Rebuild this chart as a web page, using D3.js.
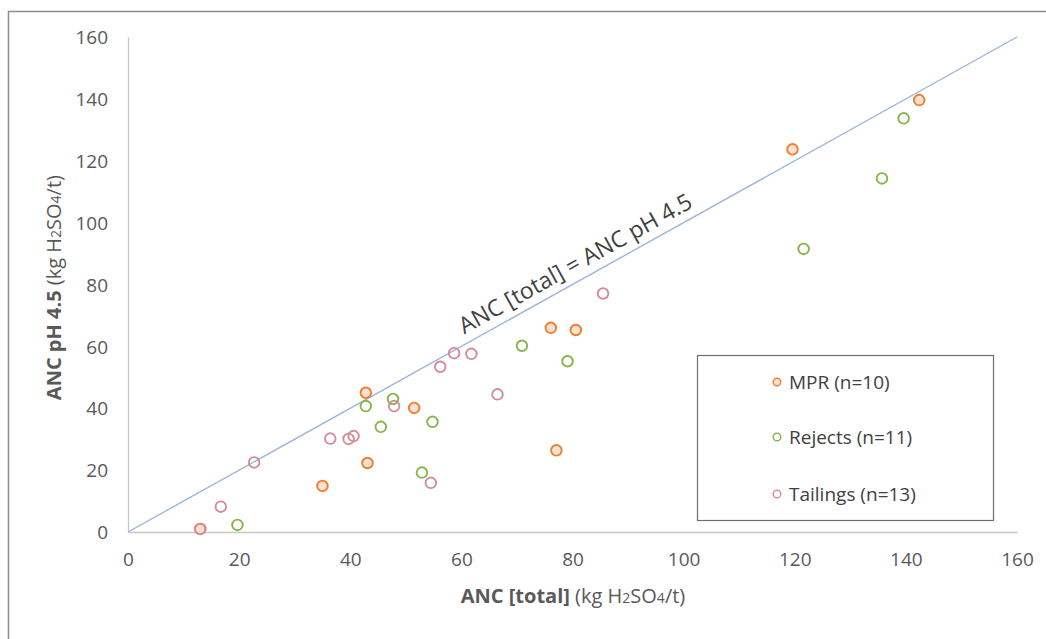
<!DOCTYPE html>
<html>
<head>
<meta charset="utf-8">
<script src="https://cdn.jsdelivr.net/npm/d3@7"></script>
<style>
  html, body { margin: 0; padding: 0; background: #fff; }
  svg { display: block; }
  text { font-family: "Open Sans", "Liberation Sans", sans-serif; }
</style>
</head>
<body>
<svg id="chart" width="1046" height="639"></svg>
<script>
// ---- data ----
const seriesNames = ["MPR (n=10)", "Rejects (n=11)", "Tailings (n=13)"];
const mprX = [13, 35, 42.8, 43.1, 51.5, 76.1, 77.1, 80.6, 119.6, 142.4];
const mprY = [1, 14.9, 45, 22.3, 40.1, 66, 26.4, 65.3, 123.7, 139.6];
const rejectsX = [19.7, 42.8, 45.5, 47.7, 52.9, 54.8, 70.9, 79.1, 121.6, 135.7, 139.6];
const rejectsY = [2.3, 40.7, 34, 43, 19.2, 35.6, 60.2, 55.2, 91.5, 114.3, 133.7];
const tailingsX = [13, 16.7, 22.7, 36.4, 39.7, 40.6, 47.9, 54.5, 56.2, 58.7, 61.8, 66.5, 85.5];
const tailingsY = [1, 8.2, 22.5, 30.2, 30.1, 31, 40.7, 15.9, 53.4, 57.8, 57.6, 44.5, 77.1];
const xTicks = [0, 20, 40, 60, 80, 100, 120, 140, 160];
const yTicks = [0, 20, 40, 60, 80, 100, 120, 140, 160];
const refLine = [[0, 0], [160, 160]];
const refLabel = "ANC [total] = ANC pH 4.5";

const colors = {
  stroke: ["#ED7D31", "#86B54A", "#D48C9B"],
  fill: ["#FCE1CF", "#FFFFFF", "#FFFFFF"]
};

const svg = d3.select("#chart");
const W = 1046, H = 639;
const m = { left: 128, right: W - 1017, top: 37, bottom: H - 532 };

// outer frame
svg.append("path")
  .attr("d", `M8.5,${H} L8.5,11.5 L${W},11.5`)
  .attr("fill", "none").attr("stroke", "#8c8c8c").attr("stroke-width", 1.5);

const x = d3.scaleLinear().domain([0, 160]).range([m.left, W - m.right]);
const y = d3.scaleLinear().domain([0, 160]).range([H - m.bottom, m.top]);

// axes
const xAxis = svg.append("g").attr("transform", `translate(0,${y(0)})`)
  .call(d3.axisBottom(x).tickValues(xTicks).tickSize(0).tickPadding(21));
const yAxis = svg.append("g").attr("transform", `translate(${x(0)},0)`)
  .call(d3.axisLeft(y).tickValues(yTicks).tickSize(0).tickPadding(20));
[xAxis, yAxis].forEach(a => {
  a.select(".domain").attr("stroke", "#c8c8c8").attr("stroke-width", 1.3);
  a.selectAll("text").attr("fill", "#595959").style("font-size", "19px")
    .style("font-family", "'Open Sans', sans-serif");
});
yAxis.selectAll("text").attr("dy", "0.35em");

// reference line
const line = d3.line().x(d => x(d[0])).y(d => y(d[1]));
svg.append("path").datum(refLine).attr("d", line)
  .attr("fill", "none").attr("stroke", "#9DB5D9").attr("stroke-width", 1.4);

// reference label
const ang = Math.atan2(y(0) - y(160), x(160) - x(0)) * 180 / Math.PI;
svg.append("text")
  .attr("transform", `translate(${x(82)},${y(82)}) rotate(${-ang}) translate(0,-9)`)
  .attr("text-anchor", "middle")
  .attr("fill", "#404040")
  .style("font-size", "23px")
  .text(refLabel);

// points
const series = [
  { xs: mprX, ys: mprY },
  { xs: rejectsX, ys: rejectsY },
  { xs: tailingsX, ys: tailingsY }
];
const drawOrder = [1, 0, 2];
drawOrder.forEach(i => {
  const s = series[i];
  const pts = s.xs.map((v, k) => [v, s.ys[k]]);
  svg.append("g").selectAll("circle").data(pts).join("circle")
    .attr("cx", d => x(d[0])).attr("cy", d => y(d[1])).attr("r", 5.3)
    .attr("fill", colors.fill[i]).attr("fill-opacity", i === 0 ? 1 : 0)
    .attr("stroke", colors.stroke[i]).attr("stroke-width", 1.9);
});

// legend
const lg = svg.append("g");
lg.append("rect").attr("x", 697.5).attr("y", 355.5).attr("width", 296).attr("height", 165)
  .attr("fill", "#fff").attr("stroke", "#6e6e6e").attr("stroke-width", 1.2);
const legY = [382, 437, 494];
seriesNames.forEach((n, i) => {
  lg.append("circle").attr("cx", 777).attr("cy", legY[i]).attr("r", 3.8)
    .attr("fill", i === 0 ? colors.fill[0] : "#fff")
    .attr("stroke", colors.stroke[i]).attr("stroke-width", 1.4);
  lg.append("text").attr("x", 789).attr("y", legY[i]).attr("dy", "0.35em")
    .attr("fill", "#404040").style("font-size", "19px").text(n);
});

// axis titles
const xt = svg.append("text").attr("x", 573).attr("y", 603)
  .attr("text-anchor", "middle").attr("fill", "#595959").style("font-size", "20px");
xt.append("tspan").attr("font-weight", "bold").text("ANC [total]");
xt.append("tspan").text(" (kg H");
xt.append("tspan").style("font-size", "14px").text("2");
xt.append("tspan").text("SO");
xt.append("tspan").style("font-size", "14px").text("4");
xt.append("tspan").text("/t)");

const yt = svg.append("text")
  .attr("transform", `translate(61,${y(79)}) rotate(-90)`)
  .attr("text-anchor", "middle").attr("fill", "#595959").style("font-size", "20px");
yt.append("tspan").attr("font-weight", "bold").text("ANC pH 4.5");
yt.append("tspan").text(" (kg H");
yt.append("tspan").style("font-size", "14px").text("2");
yt.append("tspan").text("SO");
yt.append("tspan").style("font-size", "14px").text("4");
yt.append("tspan").text("/t)");
</script>
</body>
</html>
